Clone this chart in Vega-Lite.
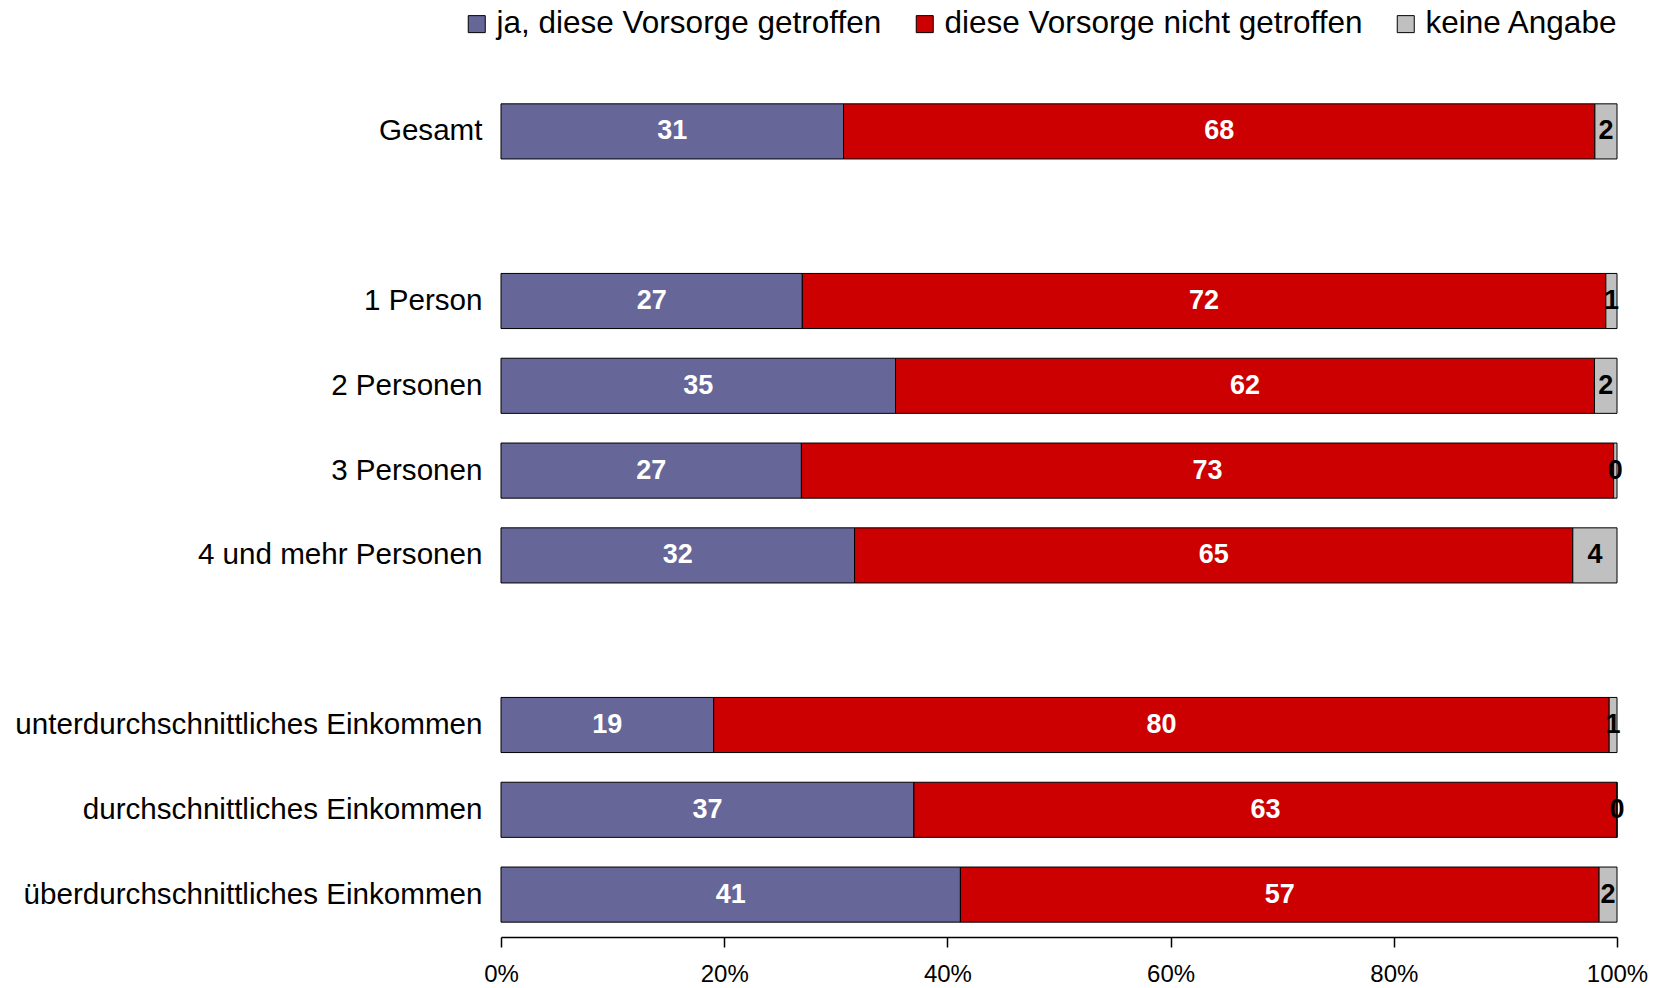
{
  "$schema": "https://vega.github.io/schema/vega-lite/v6.json",
  "width": 1116,
  "height": 848,
  "autosize": "none",
  "padding": {"left": 501, "top": 89, "right": 42, "bottom": 51},
  "background": "white",
  "config": {
    "font": "Liberation Sans",
    "view": {"stroke": null}
  },
  "data": {
    "values": [
      {"group": "Gesamt", "cat": "ja, diese Vorsorge getroffen", "ord": 1, "value": 31},
      {"group": "Gesamt", "cat": "diese Vorsorge nicht getroffen", "ord": 2, "value": 68},
      {"group": "Gesamt", "cat": "keine Angabe", "ord": 3, "value": 2},
      {"group": "1 Person", "cat": "ja, diese Vorsorge getroffen", "ord": 1, "value": 27},
      {"group": "1 Person", "cat": "diese Vorsorge nicht getroffen", "ord": 2, "value": 72},
      {"group": "1 Person", "cat": "keine Angabe", "ord": 3, "value": 1},
      {"group": "2 Personen", "cat": "ja, diese Vorsorge getroffen", "ord": 1, "value": 35},
      {"group": "2 Personen", "cat": "diese Vorsorge nicht getroffen", "ord": 2, "value": 62},
      {"group": "2 Personen", "cat": "keine Angabe", "ord": 3, "value": 2},
      {"group": "3 Personen", "cat": "ja, diese Vorsorge getroffen", "ord": 1, "value": 27},
      {"group": "3 Personen", "cat": "diese Vorsorge nicht getroffen", "ord": 2, "value": 73},
      {"group": "3 Personen", "cat": "keine Angabe", "ord": 3, "value": 0.3},
      {"group": "4 und mehr Personen", "cat": "ja, diese Vorsorge getroffen", "ord": 1, "value": 32},
      {"group": "4 und mehr Personen", "cat": "diese Vorsorge nicht getroffen", "ord": 2, "value": 65},
      {"group": "4 und mehr Personen", "cat": "keine Angabe", "ord": 3, "value": 4},
      {"group": "unterdurchschnittliches Einkommen", "cat": "ja, diese Vorsorge getroffen", "ord": 1, "value": 19},
      {"group": "unterdurchschnittliches Einkommen", "cat": "diese Vorsorge nicht getroffen", "ord": 2, "value": 80},
      {"group": "unterdurchschnittliches Einkommen", "cat": "keine Angabe", "ord": 3, "value": 0.7},
      {"group": "durchschnittliches Einkommen", "cat": "ja, diese Vorsorge getroffen", "ord": 1, "value": 37},
      {"group": "durchschnittliches Einkommen", "cat": "diese Vorsorge nicht getroffen", "ord": 2, "value": 63},
      {"group": "durchschnittliches Einkommen", "cat": "keine Angabe", "ord": 3, "value": 0},
      {"group": "überdurchschnittliches Einkommen", "cat": "ja, diese Vorsorge getroffen", "ord": 1, "value": 41},
      {"group": "überdurchschnittliches Einkommen", "cat": "diese Vorsorge nicht getroffen", "ord": 2, "value": 57},
      {"group": "überdurchschnittliches Einkommen", "cat": "keine Angabe", "ord": 3, "value": 1.6}
    ]
  },
  "transform": [
    {"stack": "value", "groupby": ["group"], "sort": [{"field": "ord", "order": "ascending"}], "offset": "normalize", "as": ["x0", "x1"]},
    {"calculate": "(datum.x0 + datum.x1) / 2", "as": "xmid"}
  ],
  "encoding": {
    "y": {
      "field": "group",
      "type": "nominal",
      "scale": {
        "domain": ["Gesamt", " ", "1 Person", "2 Personen", "3 Personen", "4 und mehr Personen", "  ", "unterdurchschnittliches Einkommen", "durchschnittliches Einkommen", "überdurchschnittliches Einkommen"],
        "paddingInner": 0.35,
        "paddingOuter": 0.175
      },
      "axis": {
        "title": null,
        "domain": false,
        "ticks": false,
        "labelFontSize": 29.6,
        "labelColor": "black",
        "labelPadding": 19,
        "labelLimit": 600
      }
    }
  },
  "layer": [
    {
      "mark": {"type": "bar", "stroke": "black", "strokeWidth": 1},
      "encoding": {
        "x": {
          "field": "x0",
          "type": "quantitative",
          "scale": {"domain": [0, 1], "nice": false},
          "axis": {
            "title": null,
            "format": "%",
            "values": [0, 0.2, 0.4, 0.6, 0.8, 1],
            "grid": false,
            "domainColor": "black",
            "domainWidth": 1.5,
            "tickColor": "black",
            "tickSize": 10,
            "tickWidth": 1.5,
            "labelFontSize": 24,
            "labelColor": "black",
            "labelPadding": 15,
            "labelFlush": false
          }
        },
        "x2": {"field": "x1"},
        "color": {
          "field": "cat",
          "type": "nominal",
          "scale": {
            "domain": ["ja, diese Vorsorge getroffen", "diese Vorsorge nicht getroffen", "keine Angabe"],
            "range": ["#666699", "#CC0000", "#C0C0C0"]
          },
          "legend": {
            "title": null,
            "orient": "none",
            "direction": "horizontal",
            "legendX": -40,
            "legendY": -81,
            "symbolType": "square",
            "symbolSize": 289,
            "symbolStrokeColor": "black",
            "symbolStrokeWidth": 1,
            "labelFontSize": 31.5,
            "labelColor": "black",
            "labelOffset": 4,
            "columnPadding": 27,
            "labelLimit": 600
          }
        }
      }
    },
    {
      "mark": {"type": "text", "fontSize": 27, "fontWeight": "bold", "align": "center", "baseline": "middle"},
      "encoding": {
        "x": {"field": "xmid", "type": "quantitative"},
        "text": {"field": "value", "type": "quantitative", "format": ".0f"},
        "fill": {
          "condition": {"test": "datum.cat === 'keine Angabe'", "value": "black"},
          "value": "white"
        }
      }
    }
  ]
}
